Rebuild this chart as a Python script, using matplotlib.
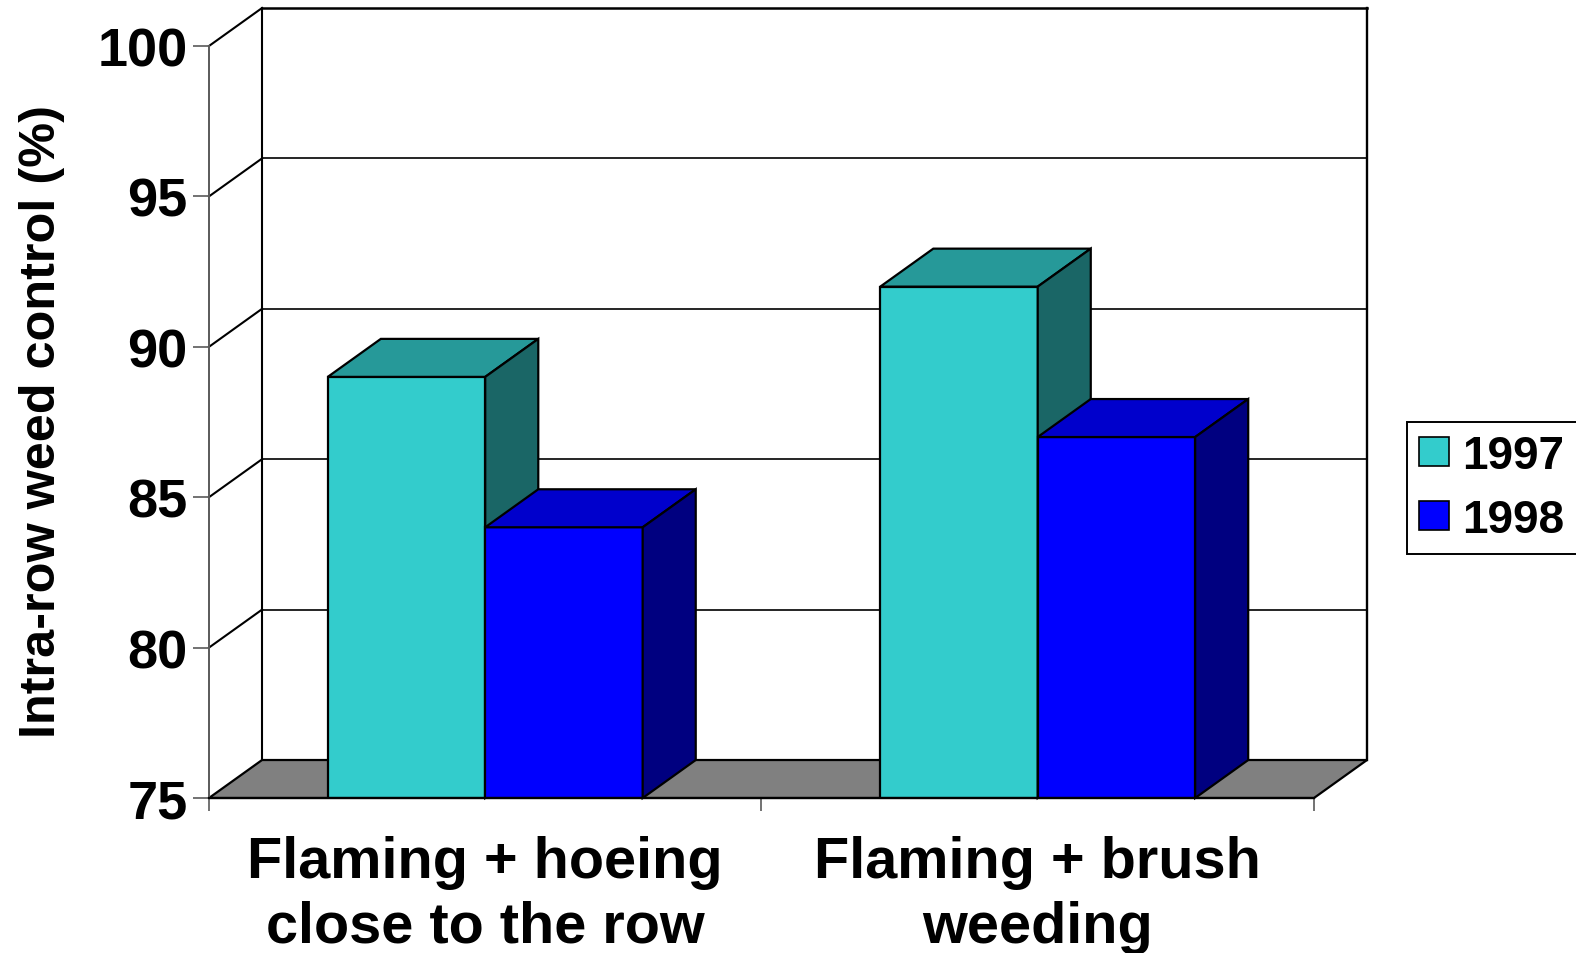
import matplotlib
import numpy as np

matplotlib.use("Agg")
import matplotlib.pyplot as plt
from matplotlib.patches import Patch, Polygon

CATEGORIES = ["Flaming + hoeing\nclose to the row", "Flaming + brush\nweeding"]
YEARS = ["1997", "1998"]
CONTROL_1997 = [89, 92]
CONTROL_1998 = [84, 87]
Y_TICKS = [75, 80, 85, 90, 95, 100]
Y_LABEL = "Intra-row weed control (%)"

# front / top / side shades for the fake 3-D columns
SHADES = {
    "1997": ("#33CCCC", "#269999", "#1A6666"),
    "1998": ("#0000FF", "#0000CC", "#000080"),
}
FLOOR_COLOR = "#808080"
AXIS_GRAY = "#5a5a5a"
EDGE_LW = 1.6

Y_MIN, Y_MAX = 75, 100
DEPTH_X = 0.096   # depth offset in category units
DEPTH_Y = 1.263   # depth offset in value units
BAR_WIDTH = 0.285

plt.rcParams["font.family"] = ["Liberation Sans", "DejaVu Sans"]
plt.rcParams["font.weight"] = "bold"

W, H = 1576, 954
fig = plt.figure(figsize=(W / 100, H / 100), dpi=100)
fig.patch.set_facecolor("white")
ax = fig.add_axes([209 / W, (H - 799) / H, (1367 - 209) / W, (799 - 9) / H])
ax.set_facecolor("none")
n_cat = len(CATEGORIES)
ax.set_xlim(0, n_cat + DEPTH_X)
ax.set_ylim(Y_MIN, Y_MAX + DEPTH_Y)


def line(xs, ys, color="black", lw=1.0, z=1):
    ax.plot(xs, ys, color=color, lw=lw, zorder=z, clip_on=False,
            solid_capstyle="projecting")


# back wall with gridlines
for v in Y_TICKS[1:]:
    line([DEPTH_X, n_cat + DEPTH_X], [v + DEPTH_Y] * 2, lw=1.2 if v < Y_MAX else 1.8)
line([DEPTH_X, DEPTH_X], [Y_MIN + DEPTH_Y, Y_MAX + DEPTH_Y], lw=1.5)
line([n_cat + DEPTH_X] * 2, [Y_MIN + DEPTH_Y, Y_MAX + DEPTH_Y], lw=1.7)

# side wall diagonals
for v in Y_TICKS[1:]:
    line([0, DEPTH_X], [v, v + DEPTH_Y], lw=1.5)

# floor
floor = Polygon(
    [(0, Y_MIN), (n_cat, Y_MIN), (n_cat + DEPTH_X, Y_MIN + DEPTH_Y), (DEPTH_X, Y_MIN + DEPTH_Y)],
    closed=True, facecolor=FLOOR_COLOR, edgecolor="black", lw=EDGE_LW, zorder=2, clip_on=False,
)
ax.add_patch(floor)

# columns: front face via ax.bar, then top and side faces from the same geometry
centers = np.arange(n_cat) + 0.5
series = [("1997", CONTROL_1997, centers - BAR_WIDTH / 2), ("1998", CONTROL_1998, centers + BAR_WIDTH / 2)]
bars_by_year = {}
for year, values, xs in series:
    front, top, side = SHADES[year]
    bars = ax.bar(xs, [v - Y_MIN for v in values], width=BAR_WIDTH, bottom=Y_MIN,
                  color=front, edgecolor="black", linewidth=EDGE_LW, zorder=3)
    bars_by_year[year] = bars

# draw faces in left-to-right order so later columns overlap earlier sides
order = sorted(
    [(rect.get_x(), year, rect) for year, bars in bars_by_year.items() for rect in bars]
)
z = 3
for x0, year, rect in order:
    front, top, side = SHADES[year]
    x1 = x0 + rect.get_width()
    v = rect.get_y() + rect.get_height()
    z += 1
    rect.set_zorder(z)
    ax.add_patch(Polygon(
        [(x0, v), (x1, v), (x1 + DEPTH_X, v + DEPTH_Y), (x0 + DEPTH_X, v + DEPTH_Y)],
        closed=True, facecolor=top, edgecolor="black", lw=EDGE_LW, zorder=z, clip_on=False,
    ))
    ax.add_patch(Polygon(
        [(x1, Y_MIN), (x1 + DEPTH_X, Y_MIN + DEPTH_Y), (x1 + DEPTH_X, v + DEPTH_Y), (x1, v)],
        closed=True, facecolor=side, edgecolor="black", lw=EDGE_LW, zorder=z, clip_on=False,
    ))

# front axes
for name in ("top", "right"):
    ax.spines[name].set_visible(False)
ax.spines["left"].set_bounds(Y_MIN, Y_MAX)
ax.spines["left"].set_color(AXIS_GRAY)
ax.spines["left"].set_linewidth(1.4)
ax.spines["bottom"].set_bounds(0, n_cat)
ax.spines["bottom"].set_linewidth(1.6)
ax.spines["bottom"].set_zorder(20)

ax.set_yticks(Y_TICKS)
ax.set_yticklabels([str(t) for t in Y_TICKS])
ax.tick_params(axis="y", direction="out", length=11.5, width=1.2, color=AXIS_GRAY,
               pad=4, labelsize=39)

ax.set_xticks(np.arange(n_cat + 1))
ax.set_xticklabels([])
ax.set_xticks(centers, minor=True)
ax.set_xticklabels(CATEGORIES, minor=True)
ax.tick_params(axis="x", which="major", direction="out", length=9.5, width=1.2, color=AXIS_GRAY)
ax.tick_params(axis="x", which="minor", length=0, pad=27, labelsize=41.5)
for lbl in ax.get_xticklabels(minor=True):
    lbl.set_fontweight("bold")
    lbl.set_linespacing(1.25)
for lbl in ax.get_yticklabels():
    lbl.set_fontweight("bold")

fig.text(42 / W, 1 - 422 / H, Y_LABEL, rotation=90, ha="center", va="center",
         fontsize=36.3, fontweight="bold")

handles = [Patch(facecolor=SHADES[y][0], edgecolor="black", linewidth=1.2) for y in YEARS]
leg = fig.legend(
    handles, YEARS, loc="upper left", bbox_to_anchor=(1407 / W, 1 - 423 / H),
    borderaxespad=0, prop={"weight": "bold", "size": 33},
    frameon=True, fancybox=False, framealpha=1, edgecolor="black",
    handlelength=0.65, handleheight=0.6, handletextpad=0.3, labelspacing=0.44, borderpad=0.26,
)
leg.get_frame().set_linewidth(1.4)

fig.savefig("out.png", dpi=100, facecolor="white")
